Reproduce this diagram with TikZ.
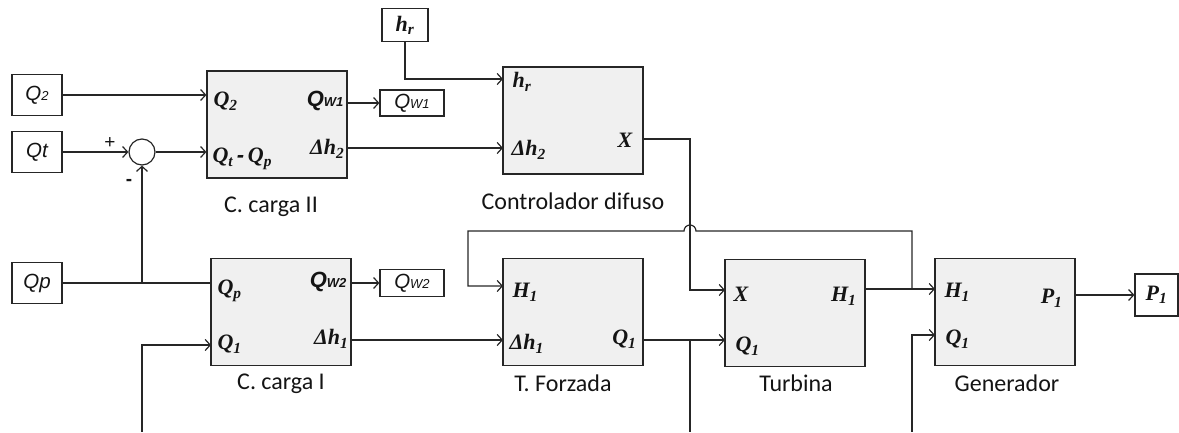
\documentclass[tikz,border=0pt]{standalone}
\usepackage{fontspec}
\setmainfont{Liberation Serif}
\setsansfont{Carlito}
\newfontfamily\arialfont{Liberation Sans}
\usetikzlibrary{arrows.meta}
\newcommand{\lowsub}[1]{{\fontsize{13}{14}\selectfont #1}}

\begin{document}
\begin{tikzpicture}[x=1pt,y=-1pt,line width=1.2pt,
    blk/.style={draw=ink,fill=blockfill,minimum width=140pt,minimum height=107pt,inner sep=0pt},
    iobox/.style={draw=ink,fill=white,inner sep=0pt},
    port/.style={inner sep=0pt,text=txt,font=\fontsize{22}{24}\selectfont\bfseries\itshape},
    sig/.style={text=txt,font=\arialfont\fontsize{20.5}{22}\selectfont\itshape},
    caption/.style={inner sep=0pt,anchor=base,text=txt,font=\sffamily\fontsize{24}{28}\selectfont},
    lnk/.style={draw=ink,-{Straight Barb[length=5pt,width=11pt]}}]
  \definecolor{ink}{HTML}{262626}
  \definecolor{txt}{HTML}{141414}
  \definecolor{blockfill}{HTML}{F0F0F0}
  % blocks
  \node[blk] (cII) at (277,124.5) {};
  \node[blk] (dif) at (573,120.5) {};
  \node[blk] (cI) at (281,312) {};
  \node[blk] (tf) at (573,312) {};
  \node[blk] (tur) at (795,313) {};
  \node[blk] (gen) at (1005,312) {};
  \node[caption] (cII-cap) at (271,213) {C. carga II};
  \node[caption] (dif-cap) at (573,210) {Controlador difuso};
  \node[caption] (cI-cap) at (281,390) {C. carga I};
  \node[caption] (tf-cap) at (563,392) {T. Forzada};
  \node[caption] (tur-cap) at (796,392) {Turbina};
  \node[caption] (gen-cap) at (1007,392) {Generador};
  % inputs and outputs
  \node[iobox,sig,minimum width=50pt,minimum height=41pt] (q2) at (37,95) {Q\lowsub{2}};
  \node[iobox,sig,minimum width=50pt,minimum height=41pt] (qt) at (37,152) {Qt};
  \node[iobox,sig,minimum width=50pt,minimum height=41pt] (qp) at (37,283) {Qp};
  \node[iobox,sig,minimum width=64pt,minimum height=26pt] (qw1) at (412,103) {Q\lowsub{W1}};
  \node[iobox,sig,minimum width=64pt,minimum height=27pt] (qw2) at (412,283) {Q\lowsub{W2}};
  \node[iobox,port,minimum width=46pt,minimum height=33pt] (hr) at (405,25) {h\textsubscript{r}};
  \node[iobox,port,minimum width=43pt,minimum height=42pt] (p1) at (1156.5,295) {P\textsubscript{1}};
  \node[draw=ink,circle,minimum size=26pt,inner sep=0pt] (sum) at (142,152) {};
  \node[sig,font=\arialfont\fontsize{19}{20}\selectfont] (plus) at (110,143) {+};
  \node[sig,font=\arialfont\bfseries\fontsize{19}{20}\selectfont] (minus) at (129,182) {-};
  % port labels
  \node[port,anchor=base west] (cII-q2) at (213,107) {Q\textsubscript{2}};
  \node[port,anchor=base west] (cII-qtp) at (212,163) {Q\textsubscript{t}\,{\arialfont -}\,Q\textsubscript{p}};
  \node[port,anchor=base east] (cII-qw) at (344,107) {\arialfont Q\lowsub{W1}};
  \node[port,anchor=base east] (cII-dh) at (345,155) {Δh\textsubscript{2}};
  \node[port,anchor=base west] (dif-hr) at (512,88) {h\textsubscript{r}};
  \node[port,anchor=base west] (dif-dh) at (511,156) {Δh\textsubscript{2}};
  \node[port,anchor=base east] (dif-x) at (633,148) {X};
  \node[port,anchor=base west] (cI-qp) at (217,295) {Q\textsubscript{p}};
  \node[port,anchor=base east] (cI-qw) at (347,288) {\arialfont Q\lowsub{W2}};
  \node[port,anchor=base west] (cI-q1) at (217,350) {Q\textsubscript{1}};
  \node[port,anchor=base east] (cI-dh) at (349,345) {Δh\textsubscript{1}};
  \node[port,anchor=base west] (tf-h1) at (512,298) {H\textsubscript{1}};
  \node[port,anchor=base west] (tf-dh) at (509,350) {Δh\textsubscript{1}};
  \node[port,anchor=base east] (tf-q1) at (637,345) {Q\textsubscript{1}};
  \node[port,anchor=base west] (tur-x) at (733,302) {X};
  \node[port,anchor=base west] (tur-q1) at (735,352) {Q\textsubscript{1}};
  \node[port,anchor=base east] (tur-h1) at (857,302) {H\textsubscript{1}};
  \node[port,anchor=base west] (gen-h1) at (944,298) {H\textsubscript{1}};
  \node[port,anchor=base west] (gen-q1) at (945,345) {Q\textsubscript{1}};
  \node[port,anchor=base east] (gen-p1) at (1063,304) {P\textsubscript{1}};
  % line ends and bends
  \coordinate (hr-in) at (503,79);
  \coordinate (dh2-in) at (503,148);
  \coordinate (x-out) at (643,139);
  \coordinate (x-bend) at (690,139);
  \coordinate (x-in) at (725,290);
  \coordinate (dh1-in) at (503,340);
  \coordinate (q1-in) at (725,340);
  \coordinate (cIq1-in) at (211,345);
  \coordinate (h1-in) at (935,289);
  \coordinate (h1-top) at (912,231);
  \coordinate (fb-left) at (468,231);
  \coordinate (tfh1-in) at (503,286);
  \coordinate (genq1-in) at (935,335);
  \coordinate (bot-a) at (142,432);
  \coordinate (bot-b) at (690,432);
  \coordinate (bot-c) at (912,432);
  % connectors
  \draw[lnk] (q2.east) -- (q2.east -| cII.west);
  \draw[lnk] (qt.east) -- (sum.west);
  \draw[lnk] (sum.east) -- (sum.east -| cII.west);
  \draw[ink] (qp.east) -- (qp.east -| cI.west);
  \draw[lnk] (qp.east -| sum.south) -- (sum.south);
  \draw[lnk] (cII.east |- qw1.west) -- (qw1.west);
  \draw[lnk] (cI.east |- qw2.west) -- (qw2.west);
  \draw[lnk] (hr.south) |- (hr-in);
  \draw[lnk] (cII.east |- dh2-in) -- (dh2-in);
  \draw[lnk] (x-out) -- (x-bend) |- (x-in);
  \draw[lnk] (cI.east |- dh1-in) -- (dh1-in);
  \draw[lnk] (tf.east |- q1-in) -- (q1-in);
  \draw[ink] (q1-in -| bot-b) -- (bot-b);
  \draw[lnk] (bot-a) |- (cIq1-in);
  \draw[lnk] (bot-c) |- (genq1-in);
  \draw[lnk] (tur.east |- h1-in) -- (h1-in);
  \draw[lnk] (h1-in -| h1-top) -- (h1-top) -- ([xshift=6pt]x-bend |- h1-top)
    arc[start angle=0,end angle=180,radius=6pt] -- (fb-left) |- (tfh1-in);
  \draw[lnk] (gen.east |- p1.west) -- (p1.west);
  \path[use as bounding box] (0,0) rectangle (1179,432);
\end{tikzpicture}
\end{document}
